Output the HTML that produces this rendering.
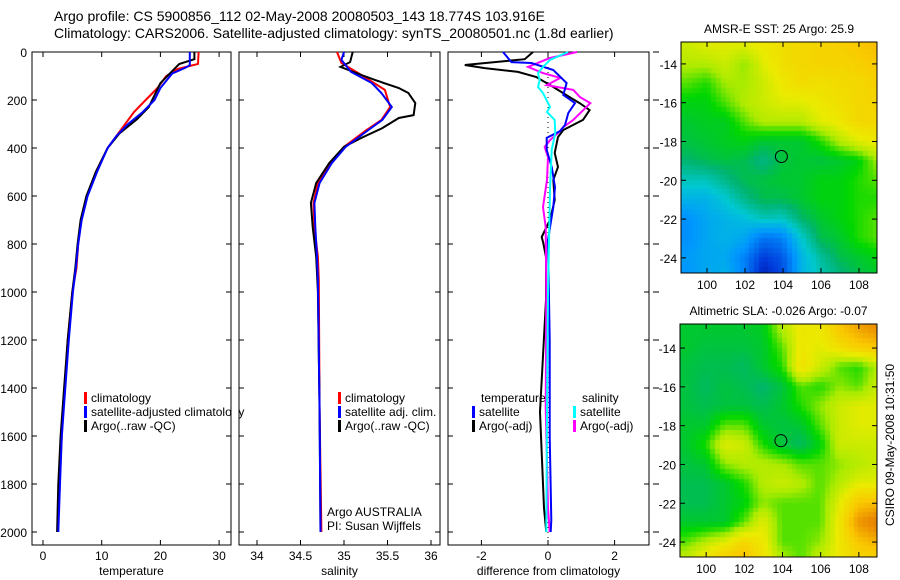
<!DOCTYPE html>
<html><head><meta charset="utf-8">
<style>
body{margin:0;background:#fff;}
#wrap{position:relative;width:900px;height:580px;overflow:hidden;background:#fff;font-family:"Liberation Sans",sans-serif;}
svg{position:absolute;left:0;top:0;}
canvas{position:absolute;}
svg text{font-family:"Liberation Sans",sans-serif;fill:#000;}
</style></head>
<body>
<div id="wrap">
<canvas id="map1"></canvas>
<canvas id="map2"></canvas>
<svg id="fig" width="900" height="580">
<text x="54" y="21" font-size="14">Argo profile: CS 5900856_112 02-May-2008 20080503_143 18.774S 103.916E</text>
<text x="54" y="38" font-size="14">Climatology: CARS2006. Satellite-adjusted climatology: synTS_20080501.nc (1.8d earlier)</text>
</svg>
</div>
<script>
// ---------- data ----------
const depthTicks=[0,200,400,600,800,1000,1200,1400,1600,1800,2000];
const tempTicks=[0,10,20,30];
const salTicks=[34,34.5,35,35.5,36];
const diffTicks=[-2,0,2];
const tClimD=[0,50,70,100,150,200,250,300,350,400,500,600,700,800,900,1000,1200,1400,1600,1800,2000];
const tClimV=[26.5,26.4,23,21,19.5,17.5,15.5,14,12.5,11,9,7.5,6.5,6,5.7,5,4.2,3.7,3.2,2.8,2.5];
const tSatD=[0,55,65,90,150,200,250,300,350,400,500,600,700,800,900,1000,1200,1400,1600,1800,2000];
const tSatV=[25,25,24.3,22,20,19,17,14.5,12.5,11,9.2,7.6,6.6,6,5.6,5.1,4.4,3.8,3.2,2.9,2.6];
const tArgoD=[0,30,50,80,130,230,280,340,400,500,600,700,800,900,1000,1200,1400,1600,1800,2000];
const tArgoV=[25.8,25.8,23.2,22,20,18,16,13,11,9,7.4,6.4,5.9,5.5,5,4.2,3.6,3,2.6,2.4];
const sClimD=[0,46,96,158,229,283,325,395,463,546,629,729,854,950,1500,2000];
const sClimV=[34.92,34.97,35.2,35.47,35.53,35.43,35.26,35.0,34.84,34.7,34.65,34.66,34.7,34.71,34.72,34.74];
const sSatD=[0,33,83,129,171,229,283,325,395,463,546,629,729,854,950,1500,2000];
const sSatV=[35.0,34.97,35.08,35.32,35.43,35.55,35.44,35.28,35.02,34.86,34.72,34.66,34.67,34.69,34.7,34.72,34.73];
const sArgoD=[0,42,62,96,117,150,171,213,263,275,317,358,395,463,546,629,729,854,1000,1500,2000];
const sArgoV=[35.1,35.07,34.96,35.2,35.36,35.63,35.74,35.82,35.8,35.63,35.44,35.2,35.0,34.83,34.68,34.62,34.64,34.68,34.7,34.72,34.73];
const dTArgoD=[0,30,54,67,83,104,146,188,213,242,283,325,354,421,479,533,617,700,771,796,854,1033,1500,1900,2000];
const dTArgoV=[-0.45,-0.7,-2.5,-1.9,-0.9,-0.35,0.16,0.65,0.95,1.25,1.05,0.46,0.3,0.2,0.3,0.16,0.2,0.06,-0.19,-0.14,-0.06,-0.06,-0.24,-0.12,-0.05];
const dTSatD=[0,42,46,75,129,179,213,254,304,330,358,408,479,563,646,783,1200,1600,1950,2000];
const dTSatV=[-1.35,-1.1,-0.5,0.16,0.56,0.46,0.81,0.61,0.51,0.36,-0.04,-0.04,0.11,0.21,0.16,0.0,0.05,0.05,0.1,0.08];
const dSArgoD=[0,25,62,88,108,138,158,188,213,242,283,313,338,367,396,438,533,646,729,1000,1480,1900,2000];
const dSArgoV=[0.87,0.06,-0.6,-0.15,0.37,-0.04,0.76,0.96,1.27,1.06,0.76,0.46,0.3,0.06,-0.1,0.0,-0.03,-0.15,-0.07,-0.05,-0.07,0.0,0.05];
const dSSatD=[0,33,62,88,117,146,171,229,250,283,338,408,575,1000,1500,2000];
const dSSatV=[0.6,0.06,-0.15,-0.3,-0.25,-0.3,-0.15,0.06,-0.03,0.2,0.22,0.11,0.06,0.0,-0.03,-0.05];
const mapLons=[99,100,101,102,103,104,105,106,107,108,109];
const mapLats=[13,14,15,16,17,18,19,20,21,22,23,24,25];
const lonTicks=[100,102,104,106,108];
const latTicks=[14,16,18,20,22,24];
const sstGrid=[
[.58,.60,.60,.60,.62,.64,.66,.67,.68,.70,.72],
[.56,.56,.58,.54,.60,.64,.66,.67,.67,.68,.70],
[.52,.50,.55,.55,.58,.62,.65,.64,.65,.66,.68],
[.48,.48,.52,.56,.58,.60,.60,.62,.64,.66,.67],
[.46,.47,.47,.52,.56,.56,.56,.60,.62,.66,.66],
[.45,.46,.47,.48,.46,.46,.46,.50,.56,.60,.62],
[.42,.44,.45,.44,.40,.45,.46,.45,.46,.48,.55],
[.36,.36,.40,.44,.45,.46,.46,.48,.48,.50,.52],
[.30,.30,.34,.40,.44,.44,.46,.48,.48,.50,.50],
[.24,.28,.30,.32,.36,.35,.42,.46,.48,.50,.52],
[.24,.28,.30,.28,.20,.22,.34,.44,.46,.50,.52],
[.26,.28,.28,.22,.12,.16,.30,.38,.44,.46,.48],
[.25,.28,.30,.22,.06,.14,.30,.36,.40,.44,.46]];
const slaGrid=[
[.46,.46,.46,.46,.47,.56,.62,.62,.70,.76,.80],
[.46,.45,.45,.45,.46,.52,.62,.60,.64,.68,.70],
[.45,.44,.44,.43,.46,.50,.64,.58,.52,.50,.56],
[.45,.43,.45,.44,.42,.45,.52,.50,.54,.52,.58],
[.45,.44,.45,.45,.44,.46,.50,.54,.58,.60,.60],
[.46,.46,.52,.52,.46,.45,.46,.52,.58,.60,.60],
[.46,.50,.60,.58,.50,.45,.43,.48,.58,.58,.58],
[.45,.46,.54,.56,.56,.55,.52,.52,.54,.56,.58],
[.44,.44,.46,.50,.56,.58,.56,.52,.56,.60,.60],
[.44,.44,.46,.48,.54,.52,.52,.52,.60,.70,.72],
[.46,.46,.46,.52,.60,.52,.52,.52,.62,.78,.84],
[.52,.56,.60,.66,.62,.52,.52,.54,.62,.70,.74],
[.58,.64,.70,.72,.64,.56,.52,.58,.62,.66,.66]];
const argoLon=103.916, argoLat=18.774;

// ---------- helpers ----------
const NS="http://www.w3.org/2000/svg";
const svg=document.getElementById('fig');
function mk(tag,attrs,parent){const e=document.createElementNS(NS,tag);for(const k in attrs)e.setAttribute(k,attrs[k]);(parent||svg).appendChild(e);return e;}
const Y0=52,Ypx=0.24,FT=52,FB=545;
function yD(d){return Y0+d*Ypx;}
function panel(name,x0,x1,xs,ticks,fmt,xlabel){
  const g=mk('g',{});
  
  
  const fr=mk('rect',{x:x0,y:FT,width:x1-x0,height:FB-FT,fill:'none',stroke:'#000','stroke-width':1},g);
  
  
  ticks.forEach(t=>{const x=xs(t);
    mk('line',{x1:x,x2:x,y1:FB,y2:FB-5,stroke:'#000'},g);
    mk('line',{x1:x,x2:x,y1:FT,y2:FT+5,stroke:'#000'},g);
    const tl=mk('text',{x:x,y:FB+15,'font-size':12,'text-anchor':'middle'},g);tl.textContent=fmt(t);
    
    
  });
  depthTicks.forEach(d=>{const y=yD(d);
    mk('line',{x1:x0,x2:x0+5,y1:y,y2:y,stroke:'#000'},g);
    mk('line',{x1:x1,x2:x1-5,y1:y,y2:y,stroke:'#000'},g);
  });
  const xl=mk('text',{x:(x0+x1)/2,y:575,'font-size':12,'text-anchor':'middle'},g);xl.textContent=xlabel;
  
  
  return g;
}
function line(g,D,V,xs,color,name,w){
  const p=D.map((d,i)=>xs(V[i]).toFixed(1)+','+yD(d).toFixed(1)).join(' ');
  const e=mk('polyline',{points:p,fill:'none',stroke:color,'stroke-width':w||2},g);
  
  
}
function legend(g,x,y,color,label,name){
  mk('rect',{x:x,y:y-10,width:3,height:12,fill:color},g);
  const t=mk('text',{x:x+7,y:y,'font-size':12},g);t.textContent=label;
  
  
}
depthTicks.forEach(d=>{const t=mk('text',{x:27,y:yD(d)+5,'font-size':12,'text-anchor':'end'});t.textContent=d;
  
  });

// panel 1
const xT=v=>43+v*5.87;
const p1=panel('temperature-panel',32,231,xT,tempTicks,t=>t,'temperature');
line(p1,tClimD,tClimV,xT,'#ff0000','temp-climatology-line');
line(p1,tArgoD,tArgoV,xT,'#000000','temp-argo-line');
line(p1,tSatD,tSatV,xT,'#0000ff','temp-satellite-line');
legend(p1,84,402,'#ff0000','climatology','legend-climatology');
legend(p1,84,416,'#0000ff','satellite-adjusted climatology','legend-satellite');
legend(p1,84,430,'#000000','Argo(..raw -QC)','legend-argo');
// panel 2
const xS=v=>257+(v-34)*87;
const p2=panel('salinity-panel',239,440,xS,salTicks,t=>t,'salinity');
mk('rect',{x:231.5,y:FT,width:7,height:FB-FT,fill:'#fff'},p2);
line(p2,sClimD,sClimV,xS,'#ff0000','sal-climatology-line');
line(p2,sArgoD,sArgoV,xS,'#000000','sal-argo-line');
line(p2,sSatD,sSatV,xS,'#0000ff','sal-satellite-line');
legend(p2,338,402,'#ff0000','climatology','legend-climatology');
legend(p2,338,416,'#0000ff','satellite adj. clim.','legend-satellite');
legend(p2,338,430,'#000000','Argo(..raw -QC)','legend-argo');
const a1=mk('text',{x:327,y:516,'font-size':12},p2);a1.textContent='Argo AUSTRALIA';

const a2=mk('text',{x:327,y:530,'font-size':12},p2);a2.textContent='PI: Susan Wijffels';

// panel 3
const xD=v=>548+v*33.3;
const p3=panel('difference-panel',448,649,xD,diffTicks,t=>t,'difference from climatology');
mk('line',{x1:xD(0),x2:xD(0),y1:FT,y2:FB,stroke:'#000','stroke-dasharray':'1,4'},p3);
line(p3,dTArgoD,dTArgoV,xD,'#000000','temp-diff-argo-line');
line(p3,dSArgoD,dSArgoV,xD,'#ff00ff','sal-diff-argo-line');
line(p3,dTSatD,dTSatV,xD,'#0000ff','temp-diff-satellite-line');
line(p3,dSSatD,dSSatV,xD,'#00ffff','sal-diff-satellite-line');
depthTicks.forEach(d=>mk('line',{x1:653,x2:659,y1:yD(d),y2:yD(d),stroke:'#000'},p3));
const lt=mk('text',{x:481,y:402,'font-size':12},p3);lt.textContent='temperature';

const ls=mk('text',{x:582,y:402,'font-size':12},p3);ls.textContent='salinity';

legend(p3,472,416,'#0000ff','satellite','legend-temp-satellite');
legend(p3,472,430,'#000000','Argo(-adj)','legend-temp-argo');
legend(p3,573,416,'#00ffff','satellite','legend-sal-satellite');
legend(p3,573,430,'#ff00ff','Argo(-adj)','legend-sal-argo');

// ---------- maps ----------
const stops=[[0,[0,0,130]],[.12,[0,60,220]],[.25,[0,150,255]],[.34,[0,200,210]],[.42,[0,180,110]],[.49,[0,215,0]],[.55,[170,235,0]],[.61,[235,235,0]],[.70,[250,200,0]],[.80,[235,140,0]],[1,[200,90,0]]];
function cmap(v){v=Math.max(0,Math.min(1,v));for(let i=1;i<stops.length;i++){if(v<=stops[i][0]){const a=stops[i-1],b=stops[i];const f=(v-a[0])/(b[0]-a[0]);return 'rgb('+a[1].map((c,k)=>Math.round(c+(b[1][k]-c)*f)).join(',')+')';}}return 'rgb(200,90,0)';}
function sample(grid,lon,lat){
  let fx=(lon-mapLons[0]),fy=(lat-mapLats[0]);
  fx=Math.max(0,Math.min(mapLons.length-1.001,fx));fy=Math.max(0,Math.min(mapLats.length-1.001,fy));
  const i=Math.floor(fx),j=Math.floor(fy),u=fx-i,w=fy-j;
  return grid[j][i]*(1-u)*(1-w)+grid[j][i+1]*u*(1-w)+grid[j+1][i]*(1-u)*w+grid[j+1][i+1]*u*w;
}
function drawMap(id,grid,x0,x1,y0,y1,latTop,latBot,title,name){
  const lonL=98.63,lonR=108.95;
  const cv=document.getElementById(id);cv.width=x1-x0;cv.height=y1-y0;cv.style.left=x0+'px';cv.style.top=y0+'px';
  const ctx=cv.getContext('2d');
  const sx=(x1-x0)/(lonR-lonL),sy=(y1-y0)/(latBot-latTop);
  const step=0.25;
  for(let lat=Math.floor(latTop/step)*step;lat<latBot;lat+=step){
    for(let lon=Math.floor(lonL/step)*step;lon<lonR;lon+=step){
      ctx.fillStyle=cmap(sample(grid,lon+step/2,lat+step/2));
      ctx.fillRect(Math.floor((lon-lonL)*sx),Math.floor((lat-latTop)*sy),Math.ceil(step*sx)+1,Math.ceil(step*sy)+1);
    }
  }
  const g=mk('g',{});
  
  
  mk('rect',{x:x0,y:y0,width:x1-x0,height:y1-y0,fill:'none',stroke:'#000'},g);
  const lx=v=>x0+(v-lonL)*sx, ly=v=>y0+(v-latTop)*sy;
  lonTicks.forEach(t=>{const x=lx(t);mk('line',{x1:x,x2:x,y1:y1,y2:y1-5,stroke:'#000'},g);mk('line',{x1:x,x2:x,y1:y0,y2:y0+5,stroke:'#000'},g);
    const tl=mk('text',{x:x,y:y1+16,'font-size':12,'text-anchor':'middle'},g);tl.textContent=t;
    });
  latTicks.forEach(t=>{const y=ly(t);mk('line',{x1:x0,x2:x0+5,y1:y,y2:y,stroke:'#000'},g);mk('line',{x1:x1,x2:x1-5,y1:y,y2:y,stroke:'#000'},g);
    const tl=mk('text',{x:x0-4,y:y+5,'font-size':12,'text-anchor':'end'},g);tl.textContent='-'+t;
    });
  const c=mk('circle',{cx:lx(argoLon),cy:ly(argoLat),r:6,fill:'none',stroke:'#000','stroke-width':1},g);
  
  const tt=mk('text',{x:(x0+x1)/2,y:y0-9,'font-size':12,'text-anchor':'middle'},g);tt.textContent=title;
  
}
drawMap('map1',sstGrid,681,877,42,273,12.87,24.78,'AMSR-E SST: 25 Argo: 25.9','sst-map-axes');
drawMap('map2',slaGrid,680,877,324,557,12.76,24.77,'Altimetric SLA: -0.026 Argo: -0.07','sla-map-axes');
const cs=mk('text',{x:0,y:0,'font-size':12,'text-anchor':'middle',transform:'translate(894,445) rotate(-90)'});
cs.textContent='CSIRO 09-May-2008 10:31:50';


</script>
</body></html>
